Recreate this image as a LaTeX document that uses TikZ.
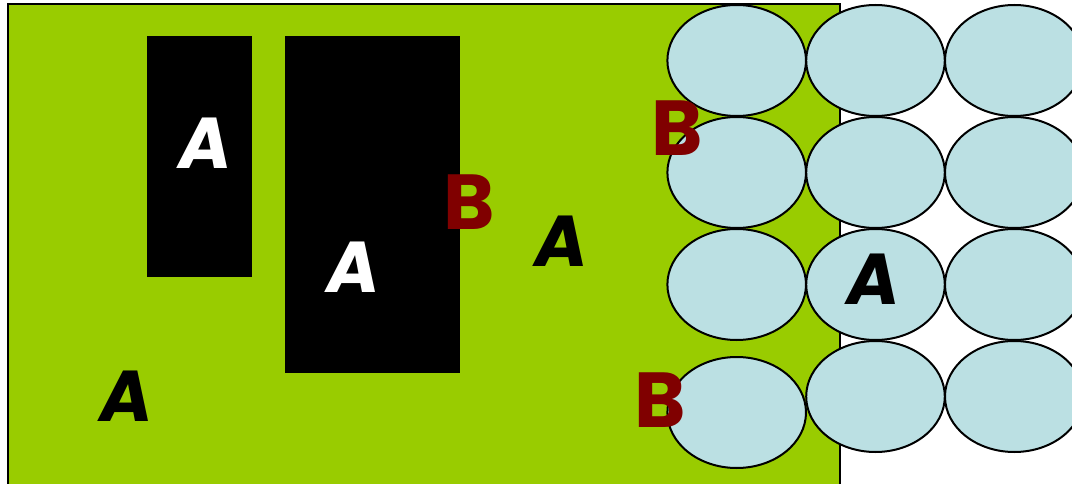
\documentclass[tikz,border=0pt]{standalone}
\usepackage{fontspec}
\usetikzlibrary{shapes.geometric}
\newfontfamily\handA{Poppins}[FakeSlant=0.15]
\newfontfamily\handB{Poppins}
\definecolor{leaf}{RGB}{153,204,0}
\definecolor{pale}{RGB}{187,224,227}
\definecolor{maroon}{RGB}{128,0,0}
\tikzset{
  field/.style={fill=leaf, draw=black, line width=2pt},
  block/.style={fill=black, draw=none},
  cell/.style={ellipse, fill=pale, draw=black, line width=2pt,
    minimum width=138.6pt, minimum height=111pt, inner sep=0pt},
  letA/.style={inner sep=0pt, font=\handA\bfseries\fontsize{72}{72}\selectfont},
  letB/.style={inner sep=0pt, text=maroon, font=\handB\bfseries\fontsize{78}{78}\selectfont},
}
\begin{document}
\begin{tikzpicture}[x=1pt, y=-1pt]
\useasboundingbox (0,0) rectangle (1072,484);
\clip (0,0) rectangle (1072,484);
% green field and the two dark blocks
\draw[field] (8,4) rectangle (840,492);
\fill[block] (147,36) rectangle (252,277);
\fill[block] (285,36) rectangle (460,373);
% grid of pale cells
\foreach \c/\x in {1/736.7, 2/875.5, 3/1014.3} {
  \node[cell] (r1c\c) at (\x,60.5) {};
  \node[cell] (r2c\c) at (\x,172.5) {};
  \node[cell] (r3c\c) at (\x,284.5) {};
}
\node[cell] (r4c1) at (736.7,412.5) {};
\node[cell] (r4c2) at (875.5,396.5) {};
\node[cell] (r4c3) at (1014.3,396.5) {};
% letters
\node[letA, text=white] (a1) at (202,143) {A};
\node[letA, text=white] (a2) at (350,267) {A};
\node[letA] (a3) at (558,241) {A};
\node[letA] (a4) at (123,396) {A};
\node[letA] (a5) at (870,279) {A};
\node[letB] (b1) at (469,202) {B};
\node[letB] (b2) at (677,128) {B};
\node[letB] (b3) at (660,400) {B};
\end{tikzpicture}
\end{document}
